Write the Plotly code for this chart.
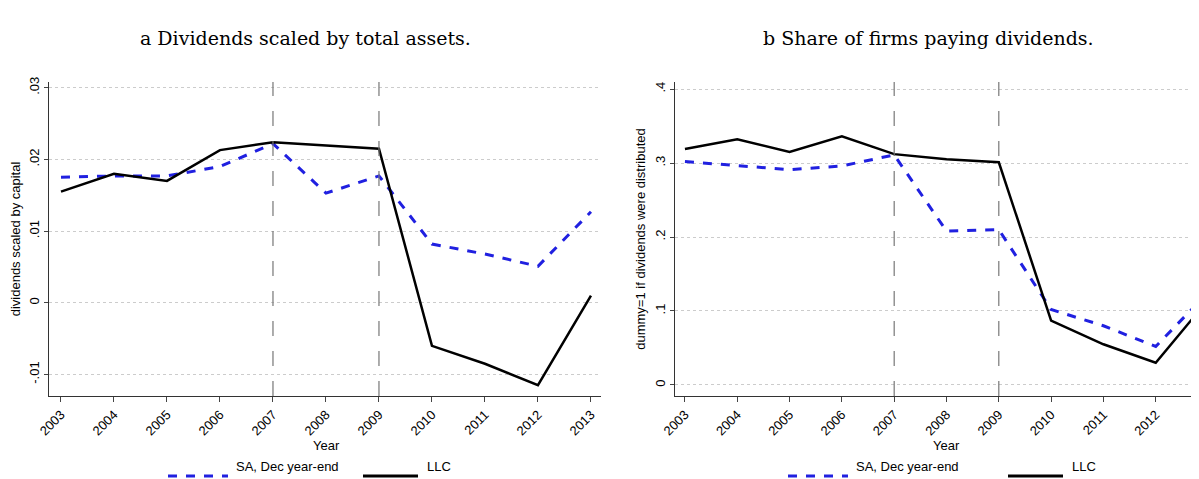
import plotly.graph_objects as go

years = list(range(2003, 2014))
sa_div = [0.0175, 0.0177, 0.0177, 0.0190, 0.0222, 0.0153, 0.0177, 0.0082, 0.0068, 0.0051, 0.0127]
llc_div = [0.0155, 0.0180, 0.0170, 0.0213, 0.0224, 0.0219, 0.0215, -0.0060, -0.0085, -0.0115, 0.0010]
sa_share = [0.302, 0.297, 0.291, 0.296, 0.311, 0.208, 0.210, 0.102, 0.080, 0.052, 0.125]
llc_share = [0.319, 0.332, 0.315, 0.336, 0.312, 0.305, 0.301, 0.087, 0.055, 0.030, 0.115]
events = [2007, 2009]

BLUE = "#2020e0"
fig = go.Figure()
fig.add_trace(go.Scatter(x=years, y=sa_div, mode="lines", line=dict(color=BLUE, width=3, dash="dash"), xaxis="x", yaxis="y", showlegend=False))
fig.add_trace(go.Scatter(x=years, y=llc_div, mode="lines", line=dict(color="black", width=2.5), xaxis="x", yaxis="y", showlegend=False))
fig.add_trace(go.Scatter(x=years, y=sa_share, mode="lines", line=dict(color=BLUE, width=3, dash="dash"), xaxis="x2", yaxis="y2", showlegend=False))
fig.add_trace(go.Scatter(x=years, y=llc_share, mode="lines", line=dict(color="black", width=2.5), xaxis="x2", yaxis="y2", showlegend=False))

for xr, yr in (("x", "y"), ("x2", "y2")):
    for e in events:
        fig.add_shape(type="line", xref=xr, yref=yr + " domain", x0=e, x1=e, y0=0, y1=1,
                      line=dict(color="#777", width=1.2, dash="longdash"))

tickfont = dict(family="Liberation Sans, Arial", size=13, color="black")
xcommon = dict(tickmode="array", tickvals=years, ticktext=[str(y) for y in years], tickangle=-45,
               showgrid=False, showline=True, linecolor="#333", ticks="outside", ticklen=5,
               tickfont=tickfont, zeroline=False, automargin=False)
ycommon = dict(showgrid=True, gridcolor="#ccc", griddash="dot", showline=True, linecolor="#333",
               ticks="outside", ticklen=4, tickangle=-90, tickfont=tickfont, zeroline=False,
               automargin=False)

dom = [1 - 388/479, 1 - 74/479]
fig.update_layout(
    width=1199, height=479, margin=dict(l=0, r=0, t=0, b=0, autoexpand=False),
    plot_bgcolor="white", paper_bgcolor="white",
    xaxis=dict(domain=[0.0342, 0.4946], range=[2002.774, 2013.19], anchor="y", **xcommon),
    yaxis=dict(domain=dom, range=[-0.013, 0.0308], anchor="x",
               tickvals=[-0.01, 0, 0.01, 0.02, 0.03], ticktext=["-.01", "0", ".01", ".02", ".03"],
               title=dict(text="dividends scaled by capital", font=tickfont, standoff=4), **ycommon),
    xaxis2=dict(domain=[0.5563, 1.0], range=[2002.81, 2012.98], anchor="y2", **xcommon),
    yaxis2=dict(domain=dom, range=[-0.0149, 0.4095], anchor="x2",
                tickvals=[0, 0.1, 0.2, 0.3, 0.4], ticktext=["0", ".1", ".2", ".3", ".4"],
                title=dict(text="dummy=1 if dividends were distributed", font=tickfont, standoff=4), **ycommon),
)

serif = dict(family="DejaVu Serif, Liberation Serif", size=19, color="black")
fig.add_annotation(text="a Dividends scaled by total assets.", x=297/1199, y=1-17/479, xref="paper", yref="paper",
                   xanchor="center", showarrow=False, font=serif)
fig.add_annotation(text="b Share of firms paying dividends.", x=920/1199, y=1-17/479, xref="paper", yref="paper",
                   xanchor="center", showarrow=False, font=serif)
for xc in (318, 938):
    fig.add_annotation(text="Year", x=xc/1199, y=1-447/479, xref="paper", yref="paper",
                       xanchor="center", showarrow=False, font=tickfont)

# legends
for sa_x0, llc_x0 in ((160, 355), (780, 1000)):
    yy = 1 - 468/479
    fig.add_shape(type="line", xref="paper", yref="paper", x0=sa_x0/1199, x1=(sa_x0+60)/1199, y0=yy, y1=yy,
                  line=dict(color=BLUE, width=3, dash="dash"))
    fig.add_annotation(text="SA, Dec year-end", x=(sa_x0+66)/1199, y=yy, xref="paper", yref="paper",
                       xanchor="left", showarrow=False, font=tickfont)
    fig.add_shape(type="line", xref="paper", yref="paper", x0=llc_x0/1199, x1=(llc_x0+55)/1199, y0=yy, y1=yy,
                  line=dict(color="black", width=3))
    fig.add_annotation(text="LLC", x=(llc_x0+62)/1199, y=yy, xref="paper", yref="paper",
                       xanchor="left", showarrow=False, font=tickfont)

fig.write_html("out.html")
